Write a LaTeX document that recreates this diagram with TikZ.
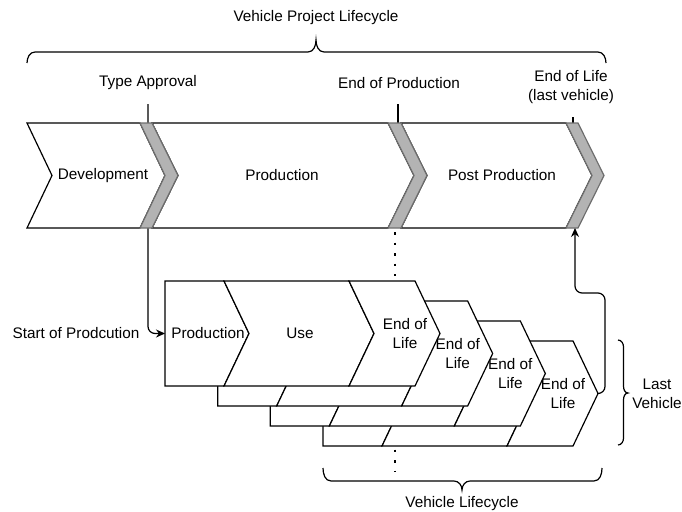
\documentclass[tikz,border=0pt]{standalone}
\usepackage{fontspec}
\setmainfont{Liberation Sans}
\usetikzlibrary{arrows.meta}
\definecolor{bandfill}{HTML}{B3B3B3}
\definecolor{bandline}{HTML}{6E6E6E}
\begin{document}
\begin{tikzpicture}[x=1pt,y=-1pt,
  lbl/.style={font=\fontsize{15.3}{19.3}\selectfont, align=center, inner sep=0pt},
  seg/.style={draw=black, fill=white, line width=1.2pt, line join=miter},
  band/.style={draw=bandline, fill=bandfill, line width=1.2pt},
  conn/.style={draw=black, line width=1.2pt, rounded corners=7pt},
  tip/.style={-{Stealth[length=9pt,width=8pt]}},
  dots/.style={line width=2.4pt, dash pattern=on 2.5pt off 8pt},
  bracestyle/.style={draw=black, line width=1.2pt}]
\useasboundingbox (0,0) rectangle (682,511);

% coordinates for connectors
\coordinate (taTop) at (148,104);
\coordinate (eopTop) at (398,104);
\coordinate (eopBot) at (398,123);
\coordinate (eolTop) at (573,117);
\coordinate (eolBot) at (573,123);
\coordinate (p0W) at (165,333.5);
\coordinate (lastTip) at (598,393.5);
\coordinate (band3S) at (575,228);

% connectors beneath the top row
\draw[conn,tip] (taTop) |- (p0W);
\draw[conn] (eopTop) -- (eopBot);
\draw[conn] (eolTop) -- (eolBot);

% top row
\draw[seg] (27,123) -- (140,123) -- (165,175.5) -- (140,228) -- (27,228) -- (52,175.5) -- cycle;
\draw[seg] (152,123) -- (388,123) -- (414,175.5) -- (388,228) -- (152,228) -- (178,175.5) -- cycle;
\draw[seg] (401,123) -- (566,123) -- (592,175.5) -- (566,228) -- (401,228) -- (427,175.5) -- cycle;
\draw[band] (140,123) -- (152,123) -- (178,175.5) -- (152,228) -- (140,228) -- (165,175.5) -- cycle;
\draw[band] (388,123) -- (401,123) -- (427,175.5) -- (401,228) -- (388,228) -- (414,175.5) -- cycle;
\draw[band] (566,123) -- (578,123) -- (604,175.5) -- (578,228) -- (566,228) -- (592,175.5) -- cycle;
\node[lbl] (dev) at (103,175.5) {Development};
\node[lbl] (prod) at (282,175.5) {Production};
\node[lbl] (post) at (502,175.5) {Post Production};

% stacked vehicle lifecycles
\foreach \i in {3,2,1,0}{
  \begin{scope}[shift={({52.67*\i},{20*\i})}]
    \draw[seg] (165,281) -- (224,281) -- (249,333.5) -- (224,386) -- (165,386) -- cycle;
    \draw[seg] (224,281) -- (349,281) -- (374,333.5) -- (349,386) -- (224,386) -- (249,333.5) -- cycle;
    \draw[seg] (349,281) -- (415,281) -- (440,333.5) -- (415,386) -- (349,386) -- (374,333.5) -- cycle;
    \node[lbl] (eolrow\i) at (405,333.5) {End of\\Life};
  \end{scope}
}
\node[lbl] (vprod) at (208,333.5) {Production};
\node[lbl] (vuse) at (300,333.5) {Use};

% arrow from last vehicle end of life
\draw[conn,tip] (lastTip) -| (605,293) -| (band3S);

% dotted continuations
\draw[dots] (395,232) -- (395,276);
\draw[dots] (395,449.5) -- (395,472);

% braces
\draw[bracestyle] (27,63) to[out=90,in=180] (35,52) -- (308,52) to[out=0,in=-90] (316,40)
  to[out=-90,in=180] (324,52) -- (598,52) to[out=0,in=90] (606,63);
\draw[bracestyle] (618,340) to[out=0,in=90] (623.5,347) -- (623.5,386) to[out=-90,in=180] (628,393)
  to[out=180,in=90] (623.5,400) -- (623.5,438) to[out=-90,in=0] (618,445);
\draw[bracestyle] (323,468) to[out=-90,in=180] (331,481) -- (454,481) to[out=0,in=90] (462,490)
  to[out=90,in=180] (470,481) -- (594,481) to[out=0,in=-90] (602,468);

% labels
\node[lbl] (title) at (316,18) {Vehicle Project Lifecycle};
\node[lbl] (ta) at (148,83) {Type Approval};
\node[lbl] (eop) at (399,83) {End of Production};
\node[lbl] (eol) at (571,87) {End of Life\\(last vehicle)};
\node[lbl] (sop) at (76,333) {Start of Prodcution};
\node[lbl] (lv) at (657,394) {Last\\Vehicle};
\node[lbl] (vl) at (462,504) {Vehicle Lifecycle};
\end{tikzpicture}
\end{document}
